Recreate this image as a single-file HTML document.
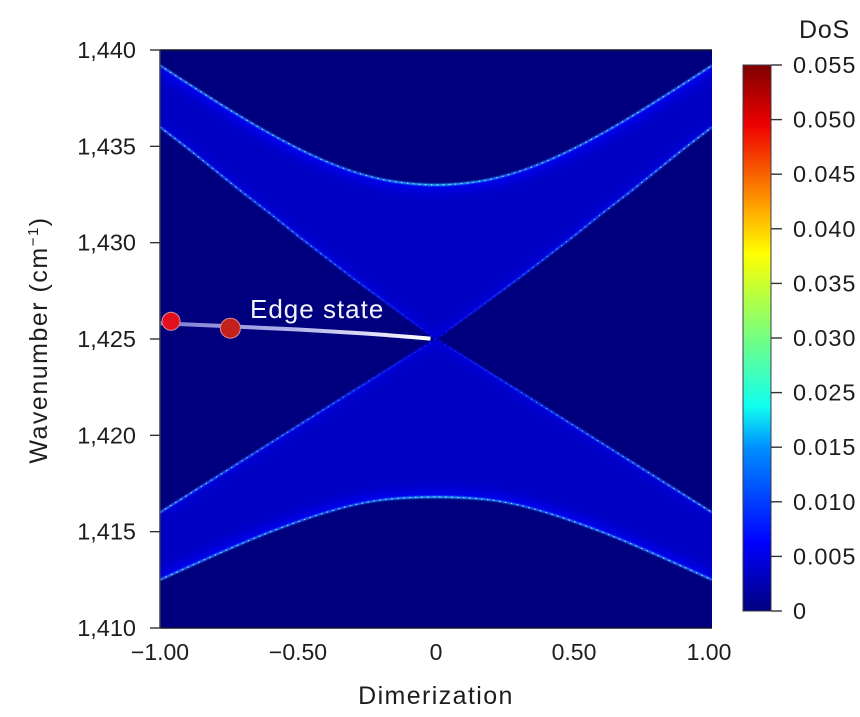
<!DOCTYPE html>
<html>
<head>
<meta charset="utf-8">
<style>
html,body{margin:0;padding:0;background:#fff;width:860px;height:717px;overflow:hidden}
svg{display:block}
text{font-family:"Liberation Sans",sans-serif;fill:#1d1d1b}
</style>
</head>
<body>
<svg id="chart" xmlns="http://www.w3.org/2000/svg" width="860" height="717" viewBox="0 0 860 717">
<defs>
<linearGradient id="jet" x1="0" y1="1" x2="0" y2="0">
<stop offset="0" stop-color="#00007f"/><stop offset="0.125" stop-color="#0000ff"/><stop offset="0.30" stop-color="#0090ff"/><stop offset="0.375" stop-color="#10fff0"/><stop offset="0.51" stop-color="#7cff79"/><stop offset="0.655" stop-color="#ffff00"/><stop offset="0.735" stop-color="#ffa800"/><stop offset="0.89" stop-color="#ee0000"/><stop offset="1" stop-color="#7f0000"/>
</linearGradient>
<linearGradient id="outerStroke" gradientUnits="userSpaceOnUse" x1="160" y1="0" x2="712" y2="0">
<stop offset="0" stop-color="#2a80ff"/><stop offset="0.35" stop-color="#1c70ff"/><stop offset="0.5" stop-color="#22c0ff"/><stop offset="0.65" stop-color="#1c70ff"/><stop offset="1" stop-color="#2a80ff"/>
</linearGradient>
<linearGradient id="innerStroke" gradientUnits="userSpaceOnUse" x1="160" y1="0" x2="712" y2="0">
<stop offset="0" stop-color="#2470ff"/><stop offset="0.3" stop-color="#1040ff"/><stop offset="0.47" stop-color="#0808e8"/><stop offset="0.5" stop-color="#0000c0"/><stop offset="0.53" stop-color="#0808e8"/><stop offset="0.7" stop-color="#1040ff"/><stop offset="1" stop-color="#2470ff"/>
</linearGradient>
<linearGradient id="innerSpeck" gradientUnits="userSpaceOnUse" x1="160" y1="0" x2="712" y2="0">
<stop offset="0" stop-color="#cfeaff"/><stop offset="0.3" stop-color="#6aa8ff"/><stop offset="0.42" stop-color="#1030ff"/><stop offset="0.58" stop-color="#1030ff"/><stop offset="0.7" stop-color="#6aa8ff"/><stop offset="1" stop-color="#cfeaff"/>
</linearGradient>
<linearGradient id="edgeGrad" gradientUnits="userSpaceOnUse" x1="160" y1="0" x2="431" y2="0">
<stop offset="0" stop-color="#7c7cd4"/><stop offset="0.5" stop-color="#b4b4ec"/><stop offset="1" stop-color="#ffffff"/>
</linearGradient>
<filter id="glow" x="-10%" y="-30%" width="120%" height="160%"><feGaussianBlur stdDeviation="5"/></filter>
<filter id="soft" x="-5%" y="-10%" width="110%" height="120%"><feGaussianBlur stdDeviation="0.7"/></filter>
<clipPath id="plotClip"><rect x="160" y="50" width="552" height="578"/></clipPath>
</defs>
</svg>
<script>
var dimerization = [-1,-0.9,-0.8,-0.7,-0.6,-0.5,-0.4,-0.3,-0.2,-0.1,0,0.1,0.2,0.3,0.4,0.5,0.6,0.7,0.8,0.9,1];
var upperOuterBand = [1439.2,1438.27,1437.36,1436.48,1435.65,1434.89,1434.23,1433.69,1433.3,1433.08,1433,1433.08,1433.3,1433.69,1434.23,1434.89,1435.65,1436.48,1437.36,1438.27,1439.2];
var upperInnerBand = [1436,1434.9,1433.75,1432.6,1431.5,1430.35,1429.25,1428.15,1427.1,1426.05,1425,1426.05,1427.1,1428.15,1429.25,1430.35,1431.5,1432.6,1433.75,1434.9,1436];
var lowerInnerBand = [1416,1416.9,1417.8,1418.7,1419.6,1420.5,1421.4,1422.3,1423.2,1424.1,1425,1424.1,1423.2,1422.3,1421.4,1420.5,1419.6,1418.7,1417.8,1416.9,1416];
var lowerOuterBand = [1412.5,1413.15,1413.79,1414.41,1414.99,1415.52,1415.99,1416.38,1416.64,1416.76,1416.8,1416.76,1416.64,1416.38,1415.99,1415.52,1414.99,1414.41,1413.79,1413.15,1412.5];
var edgeX = [-1,-0.75,-0.5,-0.25,-0.02];
var edgeWavenumber = [1425.82,1425.66,1425.49,1425.28,1425.02];
var markerX = [-0.96,-0.745];
var markerWavenumber = [1425.92,1425.56];
var markerColors = ["#e2101c","#c4201c"];
var yTicks = [1410,1415,1420,1425,1430,1435,1440];
var yTickLabels = ["1,410","1,415","1,420","1,425","1,430","1,435","1,440"];
var xTicks = [-1,-0.5,0,0.5,1];
var xTickLabels = ["\u22121.00","\u22120.50","0","0.50","1.00"];
var dosTickLabels = ["0","0.005","0.010","0.015","0.025","0.030","0.035","0.040","0.045","0.050","0.055"];

var svg = document.getElementById('chart');
var NS = 'http://www.w3.org/2000/svg';
function sx(v){ return 160 + (v + 1) / 2 * 552; }
function sy(v){ return 628 - (v - 1410) / 30 * 578; }
function sc(i){ return 611 - i / (dosTickLabels.length - 1) * 546; }
function mk(tag, attrs, parent){
  var el = document.createElementNS(NS, tag);
  for (var k in attrs) el.setAttribute(k, attrs[k]);
  (parent || svg).appendChild(el);
  return el;
}
function linePath(xs, ys, smooth){
  var p = xs.map(function(x, i){ return [sx(x), sy(ys[i])]; });
  var d = 'M' + p[0][0] + ' ' + p[0][1];
  for (var i = 0; i < p.length - 1; i++){
    if (!smooth){ d += 'L' + p[i+1][0] + ' ' + p[i+1][1]; continue; }
    var a = p[Math.max(i-1,0)], b = p[i], c = p[i+1], e = p[Math.min(i+2,p.length-1)];
    d += 'C' + (b[0]+(c[0]-a[0])/6) + ' ' + (b[1]+(c[1]-a[1])/6) + ' ' + (c[0]-(e[0]-b[0])/6) + ' ' + (c[1]-(e[1]-b[1])/6) + ' ' + c[0] + ' ' + c[1];
  }
  return d;
}
function bandPath(outer, inner){
  var d = linePath(dimerization, outer, true);
  for (var i = dimerization.length - 1; i >= 0; i--) d += 'L' + sx(dimerization[i]) + ' ' + sy(inner[i]);
  return d + 'Z';
}

var plot = mk('g', {'clip-path':'url(#plotClip)'});


var bg = mk('rect', {x:160, y:50, width:552, height:578, fill:'#00007f'}, plot);



var cid = 0;
function drawBand(name, outer, inner){
  var band = mk('g', {}, plot);
  
  
  var cp = mk('clipPath', {id:'bandClip' + (++cid)}, band);
  mk('path', {d:bandPath(outer, inner)}, cp);
  var fill = mk('path', {d:bandPath(outer, inner), fill:'#0000c4'}, band);
  
  
  var g = mk('g', {'clip-path':'url(#bandClip' + cid + ')'}, band);
  mk('path', {d:linePath(dimerization, outer, true), fill:'none', stroke:'#0000f0', 'stroke-width':14, filter:'url(#glow)'}, g);
  mk('path', {d:linePath(dimerization, inner, false), fill:'none', stroke:'#0000e0', 'stroke-width':8, filter:'url(#glow)'}, g);
  var inr = mk('path', {d:linePath(dimerization, inner, false), fill:'none', stroke:'url(#innerStroke)', 'stroke-width':2, filter:'url(#soft)'}, band);
  
  
  mk('path', {d:linePath(dimerization, inner, false), fill:'none', stroke:'url(#innerSpeck)', 'stroke-width':1.1, 'stroke-dasharray':'1.5 4.5', opacity:0.85}, band);
  var out = mk('path', {d:linePath(dimerization, outer, true), fill:'none', stroke:'url(#outerStroke)', 'stroke-width':2, filter:'url(#soft)'}, band);
  
  
  mk('path', {d:linePath(dimerization, outer, true), fill:'none', stroke:'#bfe6ff', 'stroke-width':1.1, 'stroke-dasharray':'1.5 4.5', opacity:0.85}, band);
}
drawBand('upper-band', upperOuterBand, upperInnerBand);
drawBand('lower-band', lowerOuterBand, lowerInnerBand);

var edge = mk('path', {d:linePath(edgeX, edgeWavenumber, true), fill:'none', stroke:'url(#edgeGrad)', 'stroke-width':4}, plot);


markerX.forEach(function(x, i){
  var c = mk('circle', {cx:sx(x), cy:sy(markerWavenumber[i]), r:i ? 10 : 9, fill:markerColors[i], stroke:'#d88a98', 'stroke-width':1});
  
  
});
var lbl = mk('text', {x:250, y:318, 'font-size':26, 'letter-spacing':1});
lbl.setAttribute('style', 'fill:#f4f4ff');


lbl.textContent = 'Edge state';

var frameTop = mk('line', {x1:160, x2:712, y1:50, y2:50, stroke:'#14142c', 'stroke-width':1.5});


var frameBottom = mk('line', {x1:160, x2:712, y1:628, y2:628, stroke:'#14142c', 'stroke-width':1.5});


var frameLeft = mk('line', {x1:160, x2:160, y1:50, y2:628, stroke:'#3a3a50', 'stroke-width':1.5});



yTicks.forEach(function(v, i){
  var t = mk('line', {x1:150, x2:160, y1:sy(v), y2:sy(v), stroke:'#333', 'stroke-width':1.4});
  
  
  var s = mk('text', {x:136, y:sy(v) + 8, 'text-anchor':'end', 'font-size':23.5});
  
  
  s.textContent = yTickLabels[i];
});
xTicks.forEach(function(v, i){
  var s = mk('text', {x:sx(v) - (v === 1 ? 3 : 0), y:660, 'text-anchor':'middle', 'font-size':23});
  
  
  s.textContent = xTickLabels[i];
});
var xTitle = mk('text', {x:436, y:704, 'text-anchor':'middle', 'font-size':25, 'letter-spacing':1.4});


xTitle.textContent = 'Dimerization';
var yTitle = mk('text', {transform:'translate(47,340) rotate(-90)', 'text-anchor':'middle', 'font-size':25, 'letter-spacing':1.5});


yTitle.appendChild(document.createTextNode('Wavenumber (cm'));
var sup = mk('tspan', {dy:-9, 'font-size':15}, yTitle);
sup.textContent = '\u22121';
var close = mk('tspan', {dy:9}, yTitle);
close.textContent = ')';

var bar = mk('rect', {x:743, y:65, width:28, height:546, fill:'url(#jet)', stroke:'#3a3a44', 'stroke-width':1});


dosTickLabels.forEach(function(label, i){
  var t = mk('line', {x1:771, x2:782, y1:sc(i), y2:sc(i), stroke:'#333', 'stroke-width':1.4});
  
  
  var s = mk('text', {x:793, y:sc(i) + 8, 'font-size':23.5, 'letter-spacing':0.9});
  
  
  s.textContent = label;
});
var dos = mk('text', {x:799, y:38, 'font-size':25, 'letter-spacing':0.8});


dos.textContent = 'DoS';
</script>
</body>
</html>
